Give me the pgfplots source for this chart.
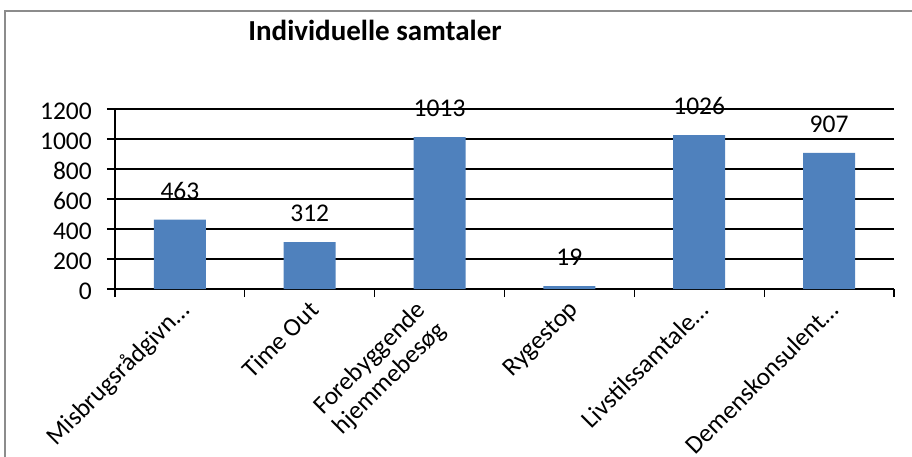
\documentclass[border=0pt]{standalone}
\usepackage{pgfplots}
\pgfplotsset{compat=1.18}
\usepackage{fontspec}
\setmainfont{Carlito}
\definecolor{barblue}{HTML}{4F81BD}
\definecolor{frame}{HTML}{8C8C8C}
\newcommand\lab{\fontsize{25.5}{28}\selectfont}
\begin{document}
\begin{tikzpicture}
\useasboundingbox (0pt,0pt) rectangle (912pt,456pt);
\clip (0pt,0pt) rectangle (912pt,456pt);
\draw[frame, line width=1.6pt] (5pt,-20pt) -- (5pt,445pt) -- (930pt,445pt);
\node[font=\fontsize{29}{32}\selectfont\bfseries] at (375pt,426pt) {Individuelle samtaler};
\begin{axis}[
  at={(179.9pt,167pt)}, anchor=origin,
  scale only axis, width=779pt, height=180pt,
  xmin=-0.5, xmax=5.5, ymin=0, ymax=1200,
  clip=false,
  axis lines*=left,
  axis line style={black, line width=1.3pt},
  ymajorgrids, grid style={black, line width=1.3pt},
  ytick={0,200,...,1200},
  xtick={-0.5,0.5,...,5.5},
  xticklabels={},
  extra x ticks={0,1,2,3,4,5},
  extra x tick labels={Misbrugsrådgivn…, Time Out, {Forebyggende\\hjemmebesøg}, Rygestop, Livstilssamtale…, Demenskonsulent…},
  extra x tick style={major tick length=0pt, grid=none},
  tick align=outside, major tick length=8pt,
  tick style={black, line width=1.3pt},
  /pgf/number format/assume math mode=true,
  /pgf/number format/1000 sep={},
  scaled y ticks=false,
  yticklabel style={font=\lab, inner sep=0pt, xshift=-15pt, yshift=-2pt},
  xticklabel style={font=\lab, inner sep=0pt, xshift={ifthenelse(\ticknum==2,-25,-2)}, yshift=-10pt, rotate=45, anchor=north east, align=center},
]
\addplot[ybar, fill=barblue, draw=none, bar width=52pt,
  nodes near coords={\pgfmathprintnumber{\pgfplotspointmeta}},
  nodes near coords style={font=\lab, inner sep=0pt, anchor=south, yshift=20pt, black}]
  coordinates {(0,463) (1,312) (2,1013) (3,19) (4,1026) (5,907)};
\end{axis}
\end{tikzpicture}
\end{document}
